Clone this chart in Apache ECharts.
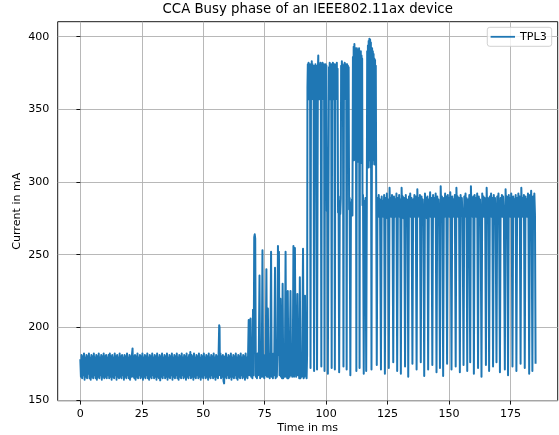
<!DOCTYPE html>
<html>
<head>
<meta charset="utf-8">
<title>CCA Busy phase</title>
<script src="https://cdn.jsdelivr.net/npm/echarts@6/dist/echarts.min.js"></script>
<style>
  html, body { margin: 0; padding: 0; background: #fff; }
  #chart { width: 559px; height: 435px; }
</style>
</head>
<body>
<div id="chart"></div>
<script>
// [time in ms, current in mA]
const idlePhase = [
  [0,178],[0.25,166],[0.5,181],[0.75,165],[1,180],[1.25,167],[1.5,182],[1.75,164],
  [2,179],[2.25,166],[2.5,181],[2.75,165],[3,180],[3.25,168],[3.5,182],[3.75,165],
  [4,179],[4.25,164],[4.5,181],[4.75,166],[5,180],[5.25,165],[5.5,182],[5.75,167],
  [6,179],[6.25,165],[6.5,181],[6.75,164],[7,180],[7.25,166],[7.5,182],[7.75,165],
  [8,179],[8.25,167],[8.5,181],[8.75,164],[9,180],[9.25,166],[9.5,182],[9.75,165],
  [10,180],[10.25,166],[10.5,181],[10.75,165],[11,179],[11.25,167],[11.5,181],[11.75,165],
  [12,182],[12.25,166],[12.5,180],[12.75,164],[13,181],[13.25,166],[13.5,179],[13.75,165],
  [14,182],[14.25,167],[14.5,180],[14.75,164],[15,181],[15.25,166],[15.5,179],[15.75,165],
  [16,182],[16.25,166],[16.5,180],[16.75,165],[17,181],[17.25,167],[17.5,179],[17.75,164],
  [18,181],[18.25,166],[18.5,180],[18.75,165],[19,182],[19.25,167],[19.5,179],[19.75,165],
  [20,181],[20.25,164],[20.5,180],[20.75,166],[21,181],[21.25,185.5],[21.5,166],[21.75,180],
  [22,165],[22.25,181],[22.5,164],[22.75,180],[23,166],[23.25,182],[23.5,165],[23.75,179],
  [24,167],[24.25,181],[24.5,165],[24.75,180],[25,166],[25.25,182],[25.5,164],[25.75,179],
  [26,166],[26.25,181],[26.5,165],[26.75,180],[27,167],[27.25,182],[27.5,165],[27.75,179],
  [28,164],[28.25,181],[28.5,166],[28.75,180],[29,165],[29.25,182],[29.5,167],[29.75,179],
  [30,165],[30.25,181],[30.5,166],[30.75,180],[31,164],[31.25,182],[31.5,166],[31.75,179],
  [32,165],[32.25,181],[32.5,163.5],[32.75,180],[33,166],[33.25,182],[33.5,165],[33.75,179],
  [34,167],[34.25,181],[34.5,165],[34.75,180],[35,166],[35.25,182],[35.5,164],[35.75,179],
  [36,166],[36.25,181],[36.5,165],[36.75,180],[37,167],[37.25,182],[37.5,164],[37.75,179],
  [38,166],[38.25,181],[38.5,165],[38.75,180],[39,167],[39.25,182],[39.5,165],[39.75,179],
  [40,164],[40.25,181],[40.5,166],[40.75,180],[41,165],[41.25,182],[41.5,167],[41.75,179],
  [42,165],[42.25,181],[42.5,166],[42.75,180],[43,164],[43.25,182],[43.5,166],[43.75,179],
  [44,165],[44.25,181],[44.5,167],[44.75,183],[45,165],[45.25,181],[45.5,166],[45.75,180],
  [46,164],[46.25,182],[46.5,166],[46.75,179],[47,165],[47.25,181],[47.5,167],[47.75,180],
  [48,165],[48.25,182],[48.5,166],[48.75,179],[49,164],[49.25,181],[49.5,166],[49.75,180],
  [50,165],[50.25,182],[50.5,167],[50.75,179],[51,165],[51.25,181],[51.5,166],[51.75,180],
  [52,164],[52.25,182],[52.5,166],[52.75,179],[53,165],[53.25,181],[53.5,167],[53.75,180],
  [54,165],[54.25,182],[54.5,166],[54.75,179],[55,164],[55.25,181],[55.5,166],[55.75,180],
  [56,165],[56.25,181],[56.5,201.5],[56.65,200],[56.8,167],[57,182],[57.25,165],[57.5,180],[57.75,166],
  [58,181],[58.25,163],[58.5,161.4],[58.75,180],[59,166],[59.25,182],[59.5,165],[59.75,179],
  [60,167],[60.25,181],[60.5,165],[60.75,180],[61,166],[61.25,182],[61.5,164],[61.75,179],
  [62,166],[62.25,181],[62.5,165],[62.75,180],[63,167],[63.25,182],[63.5,165],[63.75,179],
  [64,164],[64.25,181],[64.5,166],[64.75,180],[65,165],[65.25,182],[65.5,167],[65.75,179],
  [66,165],[66.25,181],[66.5,166],[66.75,180],[67,164],[67.25,182],[67.5,166],[67.75,179],
  [68,165],[68.25,181]
];

const burstPhase = [
  [68.5,205],[68.75,167],[69,181],[69.25,206],[69.5,166],[69.75,180],[70,165],[70.25,212],
  [70.5,167],[70.75,262],[70.95,264],[71.15,261],[71.4,166],[71.6,181],[71.85,165],[72.1,182],
  [72.35,167],[72.6,180],[72.9,235.6],[73.15,165],[73.4,181],[73.65,166],[73.85,182],[74.1,253],
  [74.35,166],[74.6,180],[74.85,165],[75.1,181],[75.35,167],[75.7,240],[75.95,166],[76.1,181],
  [76.3,213],[76.55,166],[76.8,182],[77.05,165],[77.3,180],[77.6,252],[77.85,166],[78.1,181],
  [78.35,165],[78.6,182],[78.85,167],[79.2,241],[79.45,165],[79.7,180],[79.95,166],[80.15,182],
  [80.4,256],[80.6,181],[80.8,252],[81.05,167],[81.4,219.6],[81.65,166],[81.85,181],[82.05,165],
  [82.3,230],[82.55,165],[82.8,182],[83.05,166],[83.25,180],[83.5,252],[83.75,166],[84,181],
  [84.2,165],[84.4,225],[84.65,165],[84.9,182],[85.15,166],[85.5,225],[85.75,167],[85.95,181],
  [86.2,166],[86.45,180],[86.7,256],[86.95,166],[87.3,254.5],[87.55,181],[87.8,166],[88.05,180],
  [88.3,223],[88.55,167],[88.8,181],[89.05,165],[89.3,234.5],[89.55,165],[89.8,182],[90.05,166],
  [90.3,181],[90.6,254],[90.85,165],[91.05,181],[91.2,166],[91.4,221.8],[91.65,167],[91.85,182],
  [92.05,165],[92.25,181]
];

const ccaPhase = [
  [92.4,365],[92.55,381],[92.7,358],[92.85,382],[93,357],[93.15,380],[93.3,359],[93.45,381],
  [93.65,172],[93.85,379],[94,358],[94.15,383],[94.3,360],[94.45,381],[94.6,357],[94.75,380],
  [94.9,359],[95.1,170],[95.35,380],[95.5,358],[95.65,381],[95.8,359],[95.95,380],
  [96.1,285],[96.3,171],[96.5,288],[96.65,378],
  [96.8,387],[96.95,358],[97.1,381],[97.25,357],[97.4,380],[97.55,359],[97.7,382],[97.85,358],
  [98.05,173],[98.25,381],[98.4,357],[98.55,382],[98.7,360],[98.85,380],[99,358],[99.15,381],
  [99.35,170],[99.55,379],[99.7,358],[99.85,381],[100,359],[100.1,380],
  [100.3,280],[100.5,289],[100.7,168],[100.95,284],[101.15,379],
  [101.3,358],[101.45,382],[101.6,357],[101.75,380],[101.9,359],[102.05,381],[102.25,172],[102.45,381],
  [102.6,359],[102.75,382],[102.9,357],[103.05,380],[103.2,358],[103.35,381],[103.55,171],[103.75,379],
  [103.9,358],[104.05,381],[104.2,360],[104.35,382],[104.5,357],[104.65,378],
  [104.85,279],[105.05,290],[105.3,169],[105.55,287],[105.75,278],[105.95,289],[106.1,380],
  [106.25,358],[106.4,383],[106.55,357],[106.7,381],[106.85,359],[107.05,173],[107.25,380],[107.4,359],
  [107.55,382],[107.7,358],[107.85,380],[108,357],[108.15,381],[108.35,171],[108.55,381],[108.7,359],
  [108.85,380],[109,358],[109.15,379],
  [109.35,281],[109.55,289],[109.85,167],[110.1,286],[110.3,278],[110.5,288],[110.7,277],[110.9,386],
  [111.05,320],[111.2,393],[111.35,315],[111.5,395],[111.65,330],[111.8,390],[111.95,318],[112.1,392],
  [112.3,170],[112.5,392],[112.65,318],[112.8,391],[112.95,314],[113.1,389],[113.25,320],[113.4,392],
  [113.6,172],[113.8,388],[113.95,316],[114.1,390],[114.25,313],[114.4,387],[114.55,316],[114.65,385],
  [114.8,284],[115,291],[115.3,168],[115.55,287],[115.75,277],[116,289],[116.3,170],[116.55,288],[116.7,390],
  [116.85,312],[117,394],[117.15,310],[117.3,397],[117.45,315],[117.6,398.5],[117.75,320],[117.9,398],
  [118.05,310],[118.2,396],[118.45,171],[118.7,392],[118.85,312],[119,390],[119.15,315],[119.3,388],
  [119.45,318],[119.6,385],[119.75,312],[119.9,384],[120.05,316],[120.2,380]
];

const rxPhase = [
  [120.6,174],[120.9,289],[121.15,277],[121.4,291],[121.65,276],[121.9,288],
  [122.3,171],[122.6,290],[122.85,278],[123.1,287],[123.35,276],[123.6,291],
  [123.9,168],[124.2,289],[124.45,277],[124.7,292],[124.95,275],[125.2,288],
  [125.5,172],[125.8,296],[126.05,277],[126.3,289],[126.55,276],[126.8,291],[127,278],
  [127.3,176],[127.6,290],[127.85,276],[128.1,288],[128.35,277],[128.6,292],
  [128.9,170],[129.2,289],[129.45,278],[129.7,291],[129.95,276],[130.15,288],
  [130.4,168],[130.7,296],[130.95,277],[131.2,290],[131.45,275],[131.75,289],
  [132.1,173],[132.4,291],[132.65,277],[132.9,288],[133.15,276],
  [133.4,166],[133.7,290],[133.95,278],[134.2,292],[134.45,276],[134.75,289],
  [135.1,175],[135.4,288],[135.65,277],[135.9,291],[136.15,276],[136.45,290],
  [136.8,171],[137.1,295],[137.35,276],[137.6,289],[137.85,278],[138.15,291],
  [138.5,176],[138.8,290],[139.05,277],[139.3,288],[139.55,276],
  [139.9,166.5],[140.2,292],[140.45,277],[140.7,289],[140.95,275],[141.2,290],
  [141.5,171],[141.8,288],[142.05,278],[142.3,293],[142.55,276],[142.85,289],
  [143.2,174],[143.5,291],[143.75,277],[144,289],[144.25,276],[144.55,292],
  [144.9,169],[145.2,290],[145.45,277],[145.7,288],[145.95,276],
  [146.3,172],[146.6,297],[146.85,278],[147.1,290],[147.35,277],
  [147.6,166.5],[147.9,289],[148.15,276],[148.4,292],[148.65,277],[148.9,290],
  [149.2,175],[149.5,291],[149.75,277],[150,289],[150.25,276],[150.5,293],[150.7,278],
  [151,171],[151.3,290],[151.55,277],[151.8,288],[152.05,276],[152.35,291],
  [152.7,173],[153,296],[153.25,277],[153.5,290],[153.75,276],[154.05,289],
  [154.4,169],[154.7,291],[154.95,277],[155.2,289],[155.5,276],
  [155.9,174],[156.2,290],[156.45,278],[156.7,292],[156.95,276],[157.1,289],
  [157.4,170],[157.7,288],[157.95,277],[158.25,291],
  [158.6,176],[158.9,297],[159.15,277],[159.4,289],[159.65,276],[159.85,290],
  [160.1,168],[160.4,291],[160.65,278],[160.9,289],[161.15,276],[161.45,292],
  [161.8,172],[162.1,290],[162.35,277],[162.6,288],[162.85,276],
  [163.2,166],[163.5,292],[163.75,277],[164,290],[164.25,276],[164.5,289],[164.7,278],
  [165,174],[165.3,296],[165.55,277],[165.8,289],[166.05,276],
  [166.3,170],[166.6,290],[166.85,278],[167.1,292],[167.35,276],[167.6,289],
  [167.9,173],[168.2,291],[168.45,277],[168.7,289],[168.95,276],
  [169.3,176],[169.6,290],[169.85,277],[170.1,292],[170.35,276],
  [170.7,169],[171,289],[171.25,277],[171.5,291],[171.75,276],[172,290],[172.3,278],
  [172.7,171],[173,295],[173.25,277],[173.5,290],[173.7,276],
  [174,167],[174.3,291],[174.55,278],[174.8,289],[175.05,276],[175.3,292],[175.5,277],
  [175.8,173],[176.1,290],[176.35,277],[176.6,288],[176.85,276],[177.1,291],
  [177.4,170],[177.7,289],[177.95,277],[178.2,292],[178.45,276],[178.75,290],
  [179.1,175],[179.4,296],[179.65,278],[179.9,289],[180.15,276],[180.45,291],
  [180.8,172],[181.1,290],[181.35,277],[181.6,288],[181.85,276],[182.1,292],[182.3,277],
  [182.6,168],[182.9,291],[183.15,277],[183.4,294],[183.6,276],
  [183.9,170],[184.2,290],[184.45,277],[184.7,292],[184.95,278],
  [185.2,175]
];

const xTicks = [0, 25, 50, 75, 100, 125, 150, 175];
const yTicks = [150, 200, 250, 300, 350, 400];

const font = 'DejaVu Sans';
const gridColor = '#b0b0b0';

function buildOption() {
  const axisCommon = {
    type: 'value',
    axisLine: { show: false },
    axisTick: { show: true, length: 3.9, lineStyle: { color: '#000', width: 0.9 } },
    splitLine: { show: true, lineStyle: { color: gridColor, width: 0.9 } },
    nameMoveOverlap: false,
    nameTextStyle: { color: '#000', fontFamily: font, fontSize: 11.1 },
  };
  const labelCommon = { color: '#000', fontFamily: font, fontSize: 11.1 };
  return {
    animation: false,
    backgroundColor: '#fff',
    title: {
      text: 'CCA Busy phase of an IEEE802.11ax device',
      left: 307.7,
      top: 3.5,
      padding: 0,
      textAlign: 'center',
      textStyle: { color: '#000', fontFamily: font, fontSize: 13.3, fontWeight: 'normal' },
    },
    legend: {
      right: 7.3,
      top: 27.3,
      padding: [4, 5, 4, 3.3],
      itemWidth: 24.4,
      itemHeight: 1.8,
      backgroundColor: 'rgba(255,255,255,0.8)',
      borderColor: '#cccccc',
      borderWidth: 0.9,
      borderRadius: 2.5,
      textStyle: labelCommon,
      data: [{ name: 'TPL3', icon: 'rect' }],
    },
    grid: {
      left: 57.7,
      right: 1.3,
      top: 21.7,
      bottom: 34.3,
      outerBoundsMode: 'none',
      containLabel: false,
      show: true,
      borderColor: '#000',
      borderWidth: 0.9,
      backgroundColor: 'transparent',
    },
    xAxis: {
      ...axisCommon,
      min: -9.2,
      max: 194.2,
      minInterval: 25,
      maxInterval: 25,
      axisTick: { ...axisCommon.axisTick, customValues: xTicks },
      axisLabel: { ...labelCommon, customValues: xTicks, margin: 7.8 },
      name: 'Time in ms',
      nameLocation: 'middle',
      nameGap: 22,
    },
    yAxis: {
      ...axisCommon,
      min: 149.5,
      max: 410.3,
      minInterval: 50,
      maxInterval: 50,
      axisTick: { ...axisCommon.axisTick, customValues: yTicks },
      axisLabel: { ...labelCommon, customValues: yTicks, margin: 8.4 },
      name: 'Current in mA',
      nameLocation: 'middle',
      nameGap: 35,
    },
    series: [
      {
        name: 'TPL3',
        type: 'line',
        data: [...idlePhase, ...burstPhase, ...ccaPhase, ...rxPhase],
        symbol: 'none',
        itemStyle: { color: '#1f77b4' },
        lineStyle: { color: '#1f77b4', width: 2, join: 'round' },
      },
    ],
  };
}

const chart = echarts.init(document.getElementById('chart'), undefined, { renderer: 'canvas' });
chart.setOption(buildOption());
</script>
</body>
</html>
